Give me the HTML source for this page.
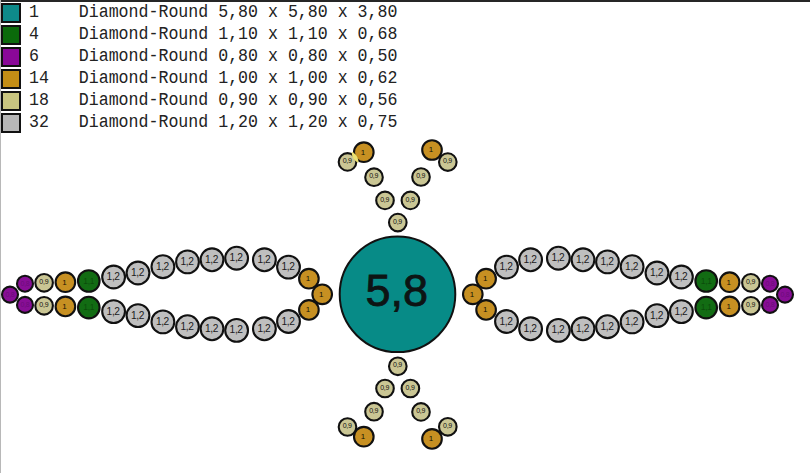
<!DOCTYPE html>
<html><head><meta charset="utf-8"><style>
html,body{margin:0;padding:0;}
body{width:810px;height:473px;background:#fff;position:relative;overflow:hidden;font-family:"Liberation Sans",sans-serif;}
.topb{position:absolute;left:0;top:0;width:810px;height:2px;background:#262626;}
.leftb{position:absolute;left:0;top:0;width:1px;height:473px;background:#b8b8b8;}
.sw{position:absolute;left:1px;width:16px;height:16px;border:2px solid #111;}
.tx{position:absolute;left:29px;font-family:"Liberation Mono",monospace;font-size:16.6px;line-height:22px;color:#222;white-space:pre;transform:scaleY(1.08);transform-origin:0 11px;}
svg{position:absolute;left:0;top:0;}
</style></head><body>
<div class="topb"></div><div class="leftb"></div>
<div class="sw" style="top:3px;background:#0e8a8a"></div><div class="tx" style="top:2px">1    Diamond-Round 5,80 x 5,80 x 3,80</div><div class="sw" style="top:25px;background:#0b6a0b"></div><div class="tx" style="top:24px">4    Diamond-Round 1,10 x 1,10 x 0,68</div><div class="sw" style="top:47px;background:#8a0898"></div><div class="tx" style="top:46px">6    Diamond-Round 0,80 x 0,80 x 0,50</div><div class="sw" style="top:69px;background:#c48e16"></div><div class="tx" style="top:68px">14   Diamond-Round 1,00 x 1,00 x 0,62</div><div class="sw" style="top:91px;background:#c9c580"></div><div class="tx" style="top:90px">18   Diamond-Round 0,90 x 0,90 x 0,56</div><div class="sw" style="top:113px;background:#b7b7b7"></div><div class="tx" style="top:112px">32   Diamond-Round 1,20 x 1,20 x 0,75</div>
<svg width="810" height="473" viewBox="0 0 810 473" font-family="Liberation Sans, sans-serif">
<circle cx="397.5" cy="294.3" r="57.8" fill="#078b87" stroke="#111" stroke-width="2"/><text x="396.7" y="306.2" font-size="45" text-anchor="middle" fill="#0d1414" stroke="#0d1414" stroke-width="0.8">5,8</text><circle cx="322.2" cy="294.3" r="9.8" fill="#c79022" stroke="#111" stroke-width="2.1"/><text x="321.3" y="296.7" font-size="8" letter-spacing="0" text-anchor="middle" fill="#151005">1</text><circle cx="308.9" cy="278.7" r="9.8" fill="#c79022" stroke="#111" stroke-width="2.1"/><text x="308.0" y="281.1" font-size="8" letter-spacing="0" text-anchor="middle" fill="#151005">1</text><circle cx="288.5" cy="267.1" r="11.4" fill="#bfbfbf" stroke="#111" stroke-width="2.1"/><text x="288.0" y="270.1" font-size="10.2" letter-spacing="-0.4" text-anchor="middle" fill="#1a1a1a">1,2</text><circle cx="264.4" cy="259.8" r="11.4" fill="#bfbfbf" stroke="#111" stroke-width="2.1"/><text x="263.9" y="262.8" font-size="10.2" letter-spacing="-0.4" text-anchor="middle" fill="#1a1a1a">1,2</text><circle cx="236.6" cy="258.2" r="11.4" fill="#bfbfbf" stroke="#111" stroke-width="2.1"/><text x="236.1" y="261.2" font-size="10.2" letter-spacing="-0.4" text-anchor="middle" fill="#1a1a1a">1,2</text><circle cx="212.0" cy="259.8" r="11.4" fill="#bfbfbf" stroke="#111" stroke-width="2.1"/><text x="211.5" y="262.8" font-size="10.2" letter-spacing="-0.4" text-anchor="middle" fill="#1a1a1a">1,2</text><circle cx="187.5" cy="261.9" r="11.4" fill="#bfbfbf" stroke="#111" stroke-width="2.1"/><text x="187.0" y="264.9" font-size="10.2" letter-spacing="-0.4" text-anchor="middle" fill="#1a1a1a">1,2</text><circle cx="162.9" cy="266.7" r="11.4" fill="#bfbfbf" stroke="#111" stroke-width="2.1"/><text x="162.4" y="269.7" font-size="10.2" letter-spacing="-0.4" text-anchor="middle" fill="#1a1a1a">1,2</text><circle cx="138.0" cy="273.0" r="11.4" fill="#bfbfbf" stroke="#111" stroke-width="2.1"/><text x="137.5" y="276.0" font-size="10.2" letter-spacing="-0.4" text-anchor="middle" fill="#1a1a1a">1,2</text><circle cx="113.6" cy="277.0" r="11.4" fill="#bfbfbf" stroke="#111" stroke-width="2.1"/><text x="113.1" y="280.0" font-size="10.2" letter-spacing="-0.4" text-anchor="middle" fill="#1a1a1a">1,2</text><circle cx="88.8" cy="281.0" r="10.8" fill="#126c13" stroke="#111" stroke-width="2.1"/><text x="88.8" y="283.6" font-size="8.5" letter-spacing="-0.3" text-anchor="middle" fill="#0c4c0c">1,1</text><circle cx="65.4" cy="282.2" r="9.8" fill="#c79022" stroke="#111" stroke-width="2.1"/><text x="64.5" y="284.6" font-size="8" letter-spacing="0" text-anchor="middle" fill="#151005">1</text><circle cx="44.1" cy="282.8" r="8.8" fill="#cac694" stroke="#111" stroke-width="2.1"/><text x="43.8" y="283.9" font-size="7.0" letter-spacing="-0.25" text-anchor="middle" fill="#111">0,9</text><circle cx="25.0" cy="283.7" r="8.0" fill="#880e96" stroke="#111" stroke-width="2.1"/><text x="25.0" y="285.7" font-size="7" letter-spacing="-0.3" text-anchor="middle" fill="#6c0d7a">0,8</text><circle cx="10.0" cy="294.6" r="8.0" fill="#880e96" stroke="#111" stroke-width="2.1"/><text x="10.0" y="296.6" font-size="7" letter-spacing="-0.3" text-anchor="middle" fill="#6c0d7a">0,8</text><circle cx="308.9" cy="309.9" r="9.8" fill="#c79022" stroke="#111" stroke-width="2.1"/><text x="308.0" y="312.3" font-size="8" letter-spacing="0" text-anchor="middle" fill="#151005">1</text><circle cx="288.5" cy="321.5" r="11.4" fill="#bfbfbf" stroke="#111" stroke-width="2.1"/><text x="288.0" y="324.5" font-size="10.2" letter-spacing="-0.4" text-anchor="middle" fill="#1a1a1a">1,2</text><circle cx="264.4" cy="328.8" r="11.4" fill="#bfbfbf" stroke="#111" stroke-width="2.1"/><text x="263.9" y="331.8" font-size="10.2" letter-spacing="-0.4" text-anchor="middle" fill="#1a1a1a">1,2</text><circle cx="236.6" cy="330.4" r="11.4" fill="#bfbfbf" stroke="#111" stroke-width="2.1"/><text x="236.1" y="333.4" font-size="10.2" letter-spacing="-0.4" text-anchor="middle" fill="#1a1a1a">1,2</text><circle cx="212.0" cy="328.8" r="11.4" fill="#bfbfbf" stroke="#111" stroke-width="2.1"/><text x="211.5" y="331.8" font-size="10.2" letter-spacing="-0.4" text-anchor="middle" fill="#1a1a1a">1,2</text><circle cx="187.5" cy="326.7" r="11.4" fill="#bfbfbf" stroke="#111" stroke-width="2.1"/><text x="187.0" y="329.7" font-size="10.2" letter-spacing="-0.4" text-anchor="middle" fill="#1a1a1a">1,2</text><circle cx="162.9" cy="321.9" r="11.4" fill="#bfbfbf" stroke="#111" stroke-width="2.1"/><text x="162.4" y="324.9" font-size="10.2" letter-spacing="-0.4" text-anchor="middle" fill="#1a1a1a">1,2</text><circle cx="138.0" cy="315.6" r="11.4" fill="#bfbfbf" stroke="#111" stroke-width="2.1"/><text x="137.5" y="318.6" font-size="10.2" letter-spacing="-0.4" text-anchor="middle" fill="#1a1a1a">1,2</text><circle cx="113.6" cy="311.6" r="11.4" fill="#bfbfbf" stroke="#111" stroke-width="2.1"/><text x="113.1" y="314.6" font-size="10.2" letter-spacing="-0.4" text-anchor="middle" fill="#1a1a1a">1,2</text><circle cx="88.8" cy="307.6" r="10.8" fill="#126c13" stroke="#111" stroke-width="2.1"/><text x="88.8" y="310.2" font-size="8.5" letter-spacing="-0.3" text-anchor="middle" fill="#0c4c0c">1,1</text><circle cx="65.4" cy="306.4" r="9.8" fill="#c79022" stroke="#111" stroke-width="2.1"/><text x="64.5" y="308.8" font-size="8" letter-spacing="0" text-anchor="middle" fill="#151005">1</text><circle cx="44.1" cy="305.8" r="8.8" fill="#cac694" stroke="#111" stroke-width="2.1"/><text x="43.8" y="306.9" font-size="7.0" letter-spacing="-0.25" text-anchor="middle" fill="#111">0,9</text><circle cx="25.0" cy="304.9" r="8.0" fill="#880e96" stroke="#111" stroke-width="2.1"/><text x="25.0" y="306.9" font-size="7" letter-spacing="-0.3" text-anchor="middle" fill="#6c0d7a">0,8</text><circle cx="472.8" cy="294.3" r="9.8" fill="#c79022" stroke="#111" stroke-width="2.1"/><text x="471.9" y="296.7" font-size="8" letter-spacing="0" text-anchor="middle" fill="#151005">1</text><circle cx="486.1" cy="278.7" r="9.8" fill="#c79022" stroke="#111" stroke-width="2.1"/><text x="485.2" y="281.1" font-size="8" letter-spacing="0" text-anchor="middle" fill="#151005">1</text><circle cx="506.5" cy="267.1" r="11.4" fill="#bfbfbf" stroke="#111" stroke-width="2.1"/><text x="506.0" y="270.1" font-size="10.2" letter-spacing="-0.4" text-anchor="middle" fill="#1a1a1a">1,2</text><circle cx="530.6" cy="259.8" r="11.4" fill="#bfbfbf" stroke="#111" stroke-width="2.1"/><text x="530.1" y="262.8" font-size="10.2" letter-spacing="-0.4" text-anchor="middle" fill="#1a1a1a">1,2</text><circle cx="558.4" cy="258.2" r="11.4" fill="#bfbfbf" stroke="#111" stroke-width="2.1"/><text x="557.9" y="261.2" font-size="10.2" letter-spacing="-0.4" text-anchor="middle" fill="#1a1a1a">1,2</text><circle cx="583.0" cy="259.8" r="11.4" fill="#bfbfbf" stroke="#111" stroke-width="2.1"/><text x="582.5" y="262.8" font-size="10.2" letter-spacing="-0.4" text-anchor="middle" fill="#1a1a1a">1,2</text><circle cx="607.5" cy="261.9" r="11.4" fill="#bfbfbf" stroke="#111" stroke-width="2.1"/><text x="607.0" y="264.9" font-size="10.2" letter-spacing="-0.4" text-anchor="middle" fill="#1a1a1a">1,2</text><circle cx="632.1" cy="266.7" r="11.4" fill="#bfbfbf" stroke="#111" stroke-width="2.1"/><text x="631.6" y="269.7" font-size="10.2" letter-spacing="-0.4" text-anchor="middle" fill="#1a1a1a">1,2</text><circle cx="657.0" cy="273.0" r="11.4" fill="#bfbfbf" stroke="#111" stroke-width="2.1"/><text x="656.5" y="276.0" font-size="10.2" letter-spacing="-0.4" text-anchor="middle" fill="#1a1a1a">1,2</text><circle cx="681.4" cy="277.0" r="11.4" fill="#bfbfbf" stroke="#111" stroke-width="2.1"/><text x="680.9" y="280.0" font-size="10.2" letter-spacing="-0.4" text-anchor="middle" fill="#1a1a1a">1,2</text><circle cx="706.2" cy="281.0" r="10.8" fill="#126c13" stroke="#111" stroke-width="2.1"/><text x="706.2" y="283.6" font-size="8.5" letter-spacing="-0.3" text-anchor="middle" fill="#0c4c0c">1,1</text><circle cx="729.6" cy="282.2" r="9.8" fill="#c79022" stroke="#111" stroke-width="2.1"/><text x="728.7" y="284.6" font-size="8" letter-spacing="0" text-anchor="middle" fill="#151005">1</text><circle cx="750.9" cy="282.8" r="8.8" fill="#cac694" stroke="#111" stroke-width="2.1"/><text x="750.6" y="283.9" font-size="7.0" letter-spacing="-0.25" text-anchor="middle" fill="#111">0,9</text><circle cx="770.0" cy="283.7" r="8.0" fill="#880e96" stroke="#111" stroke-width="2.1"/><text x="770.0" y="285.7" font-size="7" letter-spacing="-0.3" text-anchor="middle" fill="#6c0d7a">0,8</text><circle cx="785.0" cy="294.6" r="8.0" fill="#880e96" stroke="#111" stroke-width="2.1"/><text x="785.0" y="296.6" font-size="7" letter-spacing="-0.3" text-anchor="middle" fill="#6c0d7a">0,8</text><circle cx="486.1" cy="309.9" r="9.8" fill="#c79022" stroke="#111" stroke-width="2.1"/><text x="485.2" y="312.3" font-size="8" letter-spacing="0" text-anchor="middle" fill="#151005">1</text><circle cx="506.5" cy="321.5" r="11.4" fill="#bfbfbf" stroke="#111" stroke-width="2.1"/><text x="506.0" y="324.5" font-size="10.2" letter-spacing="-0.4" text-anchor="middle" fill="#1a1a1a">1,2</text><circle cx="530.6" cy="328.8" r="11.4" fill="#bfbfbf" stroke="#111" stroke-width="2.1"/><text x="530.1" y="331.8" font-size="10.2" letter-spacing="-0.4" text-anchor="middle" fill="#1a1a1a">1,2</text><circle cx="558.4" cy="330.4" r="11.4" fill="#bfbfbf" stroke="#111" stroke-width="2.1"/><text x="557.9" y="333.4" font-size="10.2" letter-spacing="-0.4" text-anchor="middle" fill="#1a1a1a">1,2</text><circle cx="583.0" cy="328.8" r="11.4" fill="#bfbfbf" stroke="#111" stroke-width="2.1"/><text x="582.5" y="331.8" font-size="10.2" letter-spacing="-0.4" text-anchor="middle" fill="#1a1a1a">1,2</text><circle cx="607.5" cy="326.7" r="11.4" fill="#bfbfbf" stroke="#111" stroke-width="2.1"/><text x="607.0" y="329.7" font-size="10.2" letter-spacing="-0.4" text-anchor="middle" fill="#1a1a1a">1,2</text><circle cx="632.1" cy="321.9" r="11.4" fill="#bfbfbf" stroke="#111" stroke-width="2.1"/><text x="631.6" y="324.9" font-size="10.2" letter-spacing="-0.4" text-anchor="middle" fill="#1a1a1a">1,2</text><circle cx="657.0" cy="315.6" r="11.4" fill="#bfbfbf" stroke="#111" stroke-width="2.1"/><text x="656.5" y="318.6" font-size="10.2" letter-spacing="-0.4" text-anchor="middle" fill="#1a1a1a">1,2</text><circle cx="681.4" cy="311.6" r="11.4" fill="#bfbfbf" stroke="#111" stroke-width="2.1"/><text x="680.9" y="314.6" font-size="10.2" letter-spacing="-0.4" text-anchor="middle" fill="#1a1a1a">1,2</text><circle cx="706.2" cy="307.6" r="10.8" fill="#126c13" stroke="#111" stroke-width="2.1"/><text x="706.2" y="310.2" font-size="8.5" letter-spacing="-0.3" text-anchor="middle" fill="#0c4c0c">1,1</text><circle cx="729.6" cy="306.4" r="9.8" fill="#c79022" stroke="#111" stroke-width="2.1"/><text x="728.7" y="308.8" font-size="8" letter-spacing="0" text-anchor="middle" fill="#151005">1</text><circle cx="750.9" cy="305.8" r="8.8" fill="#cac694" stroke="#111" stroke-width="2.1"/><text x="750.6" y="306.9" font-size="7.0" letter-spacing="-0.25" text-anchor="middle" fill="#111">0,9</text><circle cx="770.0" cy="304.9" r="8.0" fill="#880e96" stroke="#111" stroke-width="2.1"/><text x="770.0" y="306.9" font-size="7" letter-spacing="-0.3" text-anchor="middle" fill="#6c0d7a">0,8</text><circle cx="397.8" cy="222.6" r="8.8" fill="#cac694" stroke="#111" stroke-width="2.1"/><text x="397.5" y="223.7" font-size="7.0" letter-spacing="-0.25" text-anchor="middle" fill="#111">0,9</text><circle cx="385.0" cy="200.4" r="8.8" fill="#cac694" stroke="#111" stroke-width="2.1"/><text x="384.7" y="201.5" font-size="7.0" letter-spacing="-0.25" text-anchor="middle" fill="#111">0,9</text><circle cx="410.4" cy="200.4" r="8.8" fill="#cac694" stroke="#111" stroke-width="2.1"/><text x="410.1" y="201.5" font-size="7.0" letter-spacing="-0.25" text-anchor="middle" fill="#111">0,9</text><circle cx="374.0" cy="177.2" r="8.8" fill="#cac694" stroke="#111" stroke-width="2.1"/><text x="373.7" y="178.3" font-size="7.0" letter-spacing="-0.25" text-anchor="middle" fill="#111">0,9</text><circle cx="421.0" cy="177.0" r="8.8" fill="#cac694" stroke="#111" stroke-width="2.1"/><text x="420.7" y="178.1" font-size="7.0" letter-spacing="-0.25" text-anchor="middle" fill="#111">0,9</text><circle cx="432.0" cy="150.0" r="9.8" fill="#c79022" stroke="#111" stroke-width="2.1"/><text x="431.1" y="152.4" font-size="8" letter-spacing="0" text-anchor="middle" fill="#151005">1</text><circle cx="347.5" cy="161.9" r="8.8" fill="#cac694" stroke="#111" stroke-width="2.1"/><text x="347.2" y="163.0" font-size="7.0" letter-spacing="-0.25" text-anchor="middle" fill="#111">0,9</text><circle cx="447.8" cy="162.1" r="8.8" fill="#cac694" stroke="#111" stroke-width="2.1"/><text x="447.5" y="163.2" font-size="7.0" letter-spacing="-0.25" text-anchor="middle" fill="#111">0,9</text><circle cx="363.8" cy="152.2" r="9.8" fill="#c79022" stroke="#111" stroke-width="2.1"/><text x="362.9" y="154.6" font-size="8" letter-spacing="0" text-anchor="middle" fill="#151005">1</text><circle cx="397.8" cy="366.3" r="8.8" fill="#cac694" stroke="#111" stroke-width="2.1"/><text x="397.5" y="367.4" font-size="7.0" letter-spacing="-0.25" text-anchor="middle" fill="#111">0,9</text><circle cx="385.0" cy="388.5" r="8.8" fill="#cac694" stroke="#111" stroke-width="2.1"/><text x="384.7" y="389.6" font-size="7.0" letter-spacing="-0.25" text-anchor="middle" fill="#111">0,9</text><circle cx="410.4" cy="388.5" r="8.8" fill="#cac694" stroke="#111" stroke-width="2.1"/><text x="410.1" y="389.6" font-size="7.0" letter-spacing="-0.25" text-anchor="middle" fill="#111">0,9</text><circle cx="374.0" cy="411.7" r="8.8" fill="#cac694" stroke="#111" stroke-width="2.1"/><text x="373.7" y="412.8" font-size="7.0" letter-spacing="-0.25" text-anchor="middle" fill="#111">0,9</text><circle cx="421.0" cy="411.9" r="8.8" fill="#cac694" stroke="#111" stroke-width="2.1"/><text x="420.7" y="413.0" font-size="7.0" letter-spacing="-0.25" text-anchor="middle" fill="#111">0,9</text><circle cx="432.0" cy="438.9" r="9.8" fill="#c79022" stroke="#111" stroke-width="2.1"/><text x="431.1" y="441.3" font-size="8" letter-spacing="0" text-anchor="middle" fill="#151005">1</text><circle cx="347.5" cy="427.0" r="8.8" fill="#cac694" stroke="#111" stroke-width="2.1"/><text x="347.2" y="428.1" font-size="7.0" letter-spacing="-0.25" text-anchor="middle" fill="#111">0,9</text><circle cx="447.8" cy="426.8" r="8.8" fill="#cac694" stroke="#111" stroke-width="2.1"/><text x="447.5" y="427.9" font-size="7.0" letter-spacing="-0.25" text-anchor="middle" fill="#111">0,9</text><circle cx="363.8" cy="436.7" r="9.8" fill="#c79022" stroke="#111" stroke-width="2.1"/><text x="362.9" y="439.0" font-size="8" letter-spacing="0" text-anchor="middle" fill="#151005">1</text><clipPath id="lc"><circle cx="363.75" cy="152.25" r="12.0"/></clipPath><circle cx="347.5" cy="161.9" r="10.9" fill="#ebe070" clip-path="url(#lc)"/>
</svg>
</body></html>
